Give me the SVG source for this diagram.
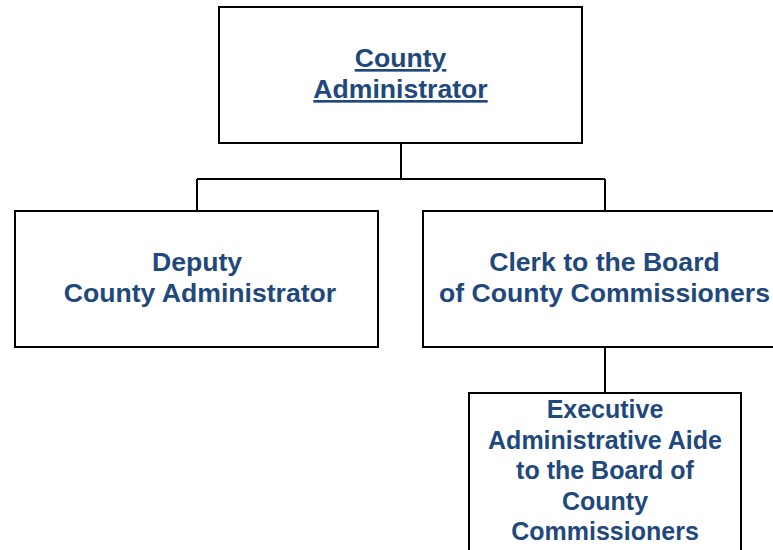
<svg xmlns="http://www.w3.org/2000/svg" width="773" height="550" viewBox="0 0 773 550">
<style>
.box{fill:#fff;stroke:#000;stroke-width:2}
.lbl{font-family:"Liberation Sans",Arial,sans-serif;font-weight:bold;font-size:26.6px;fill:#1f497d;text-anchor:middle}
.sm{font-size:25px}
.u{text-decoration:underline}
.conn{stroke:#000;stroke-width:2;fill:none}
</style>
<rect width="773" height="550" fill="#fff"/>
<g id="connectors">
<path class="conn" d="M401,143 V179 M197,179 H605 M197,179 V211 M605,179 V211 M605,347 V393"/>
</g>
<g id="county-administrator">
<rect class="box" x="219" y="7" width="363" height="136"/>
<text class="lbl u" x="400.5" y="67">County</text>
<text class="lbl u" x="400.5" y="98">Administrator</text>
</g>
<g id="deputy">
<rect class="box" x="15" y="211" width="363" height="136"/>
<text class="lbl" x="197" y="271">Deputy</text>
<text class="lbl" x="200" y="302">County Administrator</text>
</g>
<g id="clerk">
<rect class="box" x="423" y="211" width="364" height="136"/>
<text class="lbl" x="604.5" y="271">Clerk to the Board</text>
<text class="lbl" x="604.5" y="302">of County Commissioners</text>
</g>
<g id="aide">
<rect class="box" x="469" y="393" width="272" height="170"/>
<text class="lbl sm" x="605" y="418">Executive</text>
<text class="lbl sm" x="605" y="449">Administrative Aide</text>
<text class="lbl sm" x="605" y="479">to the Board of</text>
<text class="lbl sm" x="605" y="510">County</text>
<text class="lbl sm" x="605" y="540">Commissioners</text>
</g>
</svg>
